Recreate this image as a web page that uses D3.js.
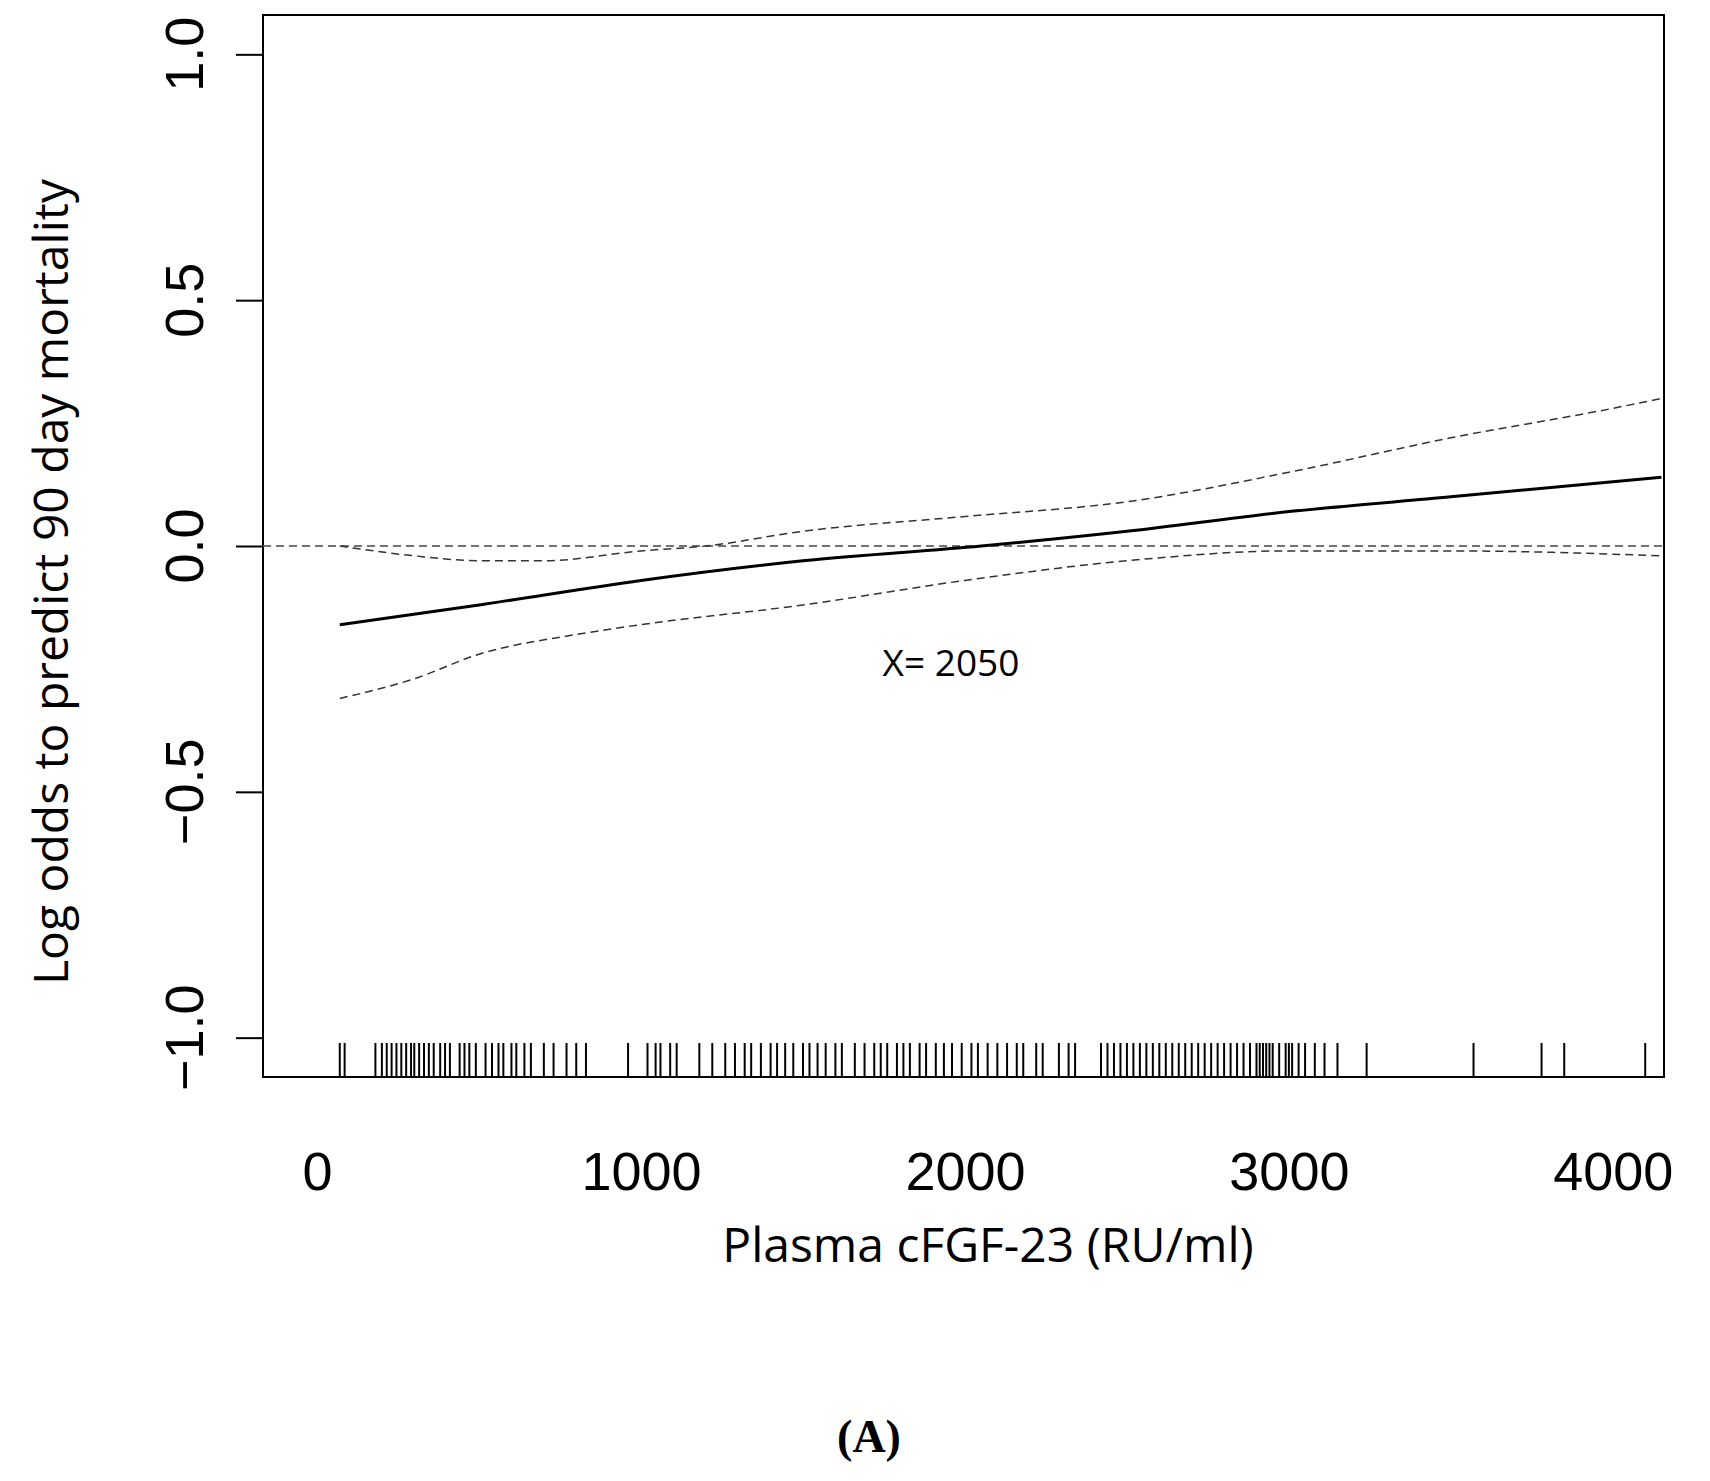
<!DOCTYPE html>
<html>
<head>
<meta charset="utf-8">
<script src="https://cdn.jsdelivr.net/npm/d3@7"></script>
<style>
  body { margin: 0; background: #fff; }
</style>
</head>
<body>
<svg id="chart" width="1710" height="1481"></svg>
<script>
// data
const xTicks = [0, 1000, 2000, 3000, 4000];
const yTicks = [-1.0, -0.5, 0.0, 0.5, 1.0];

const fitX = [70, 500, 1000, 1500, 2050, 2500, 3000, 3500, 4150];
const fitY = [-0.16, -0.12, -0.07, -0.03, 0.0, 0.03, 0.07, 0.10, 0.14];

const upperX = [70, 300, 500, 700, 1000, 1200, 1500, 2000, 2500, 3000, 3500, 4000, 4150];
const upperY = [0.0, -0.02, -0.03, -0.03, -0.01, 0.0, 0.03, 0.06, 0.09, 0.15, 0.22, 0.28, 0.30];

const lowerX = [70, 300, 500, 800, 1000, 1500, 2000, 2500, 3000, 3500, 4150];
const lowerY = [-0.31, -0.27, -0.22, -0.18, -0.16, -0.12, -0.07, -0.03, -0.01, -0.01, -0.02];

// rug of observed values
const rug = [70, 85, 180, 200, 215, 230, 245, 260, 275, 290, 300, 315, 330, 345, 360, 380, 395, 410, 440, 455, 470, 490,
  520, 540, 560, 575, 600, 615, 640, 660, 700, 730, 770, 800, 830, 960, 1020, 1045, 1060, 1090, 1110, 1180, 1220,
  1260, 1290, 1320, 1340, 1370, 1400, 1420, 1445, 1470, 1500, 1520, 1545, 1570, 1600, 1620, 1660, 1690, 1720, 1740,
  1760, 1790, 1810, 1830, 1860, 1880, 1910, 1935, 1960, 1990, 2020, 2040, 2070, 2100, 2130, 2160, 2180, 2220, 2240,
  2290, 2320, 2340, 2420, 2440, 2460, 2480, 2500, 2520, 2540, 2560, 2580, 2600, 2620, 2640, 2660, 2680, 2700, 2720,
  2740, 2760, 2780, 2800, 2820, 2840, 2860, 2880, 2900, 2910, 2920, 2930, 2940, 2950, 2970, 2990, 3000, 3010, 3030,
  3050, 3080, 3110, 3150, 3240, 3570, 3780, 3850, 4100];

const svg = d3.select("#chart");
const pLeft = 263, pRight = 1664, pTop = 15, pBottom = 1077;

const x = d3.scaleLinear().domain([-167, 4158]).range([pLeft, pRight]);
const y = d3.scaleLinear().domain([-1.08, 1.08]).range([pBottom, pTop]);

// frame
svg.append("rect").attr("x", pLeft).attr("y", pTop)
  .attr("width", pRight - pLeft).attr("height", pBottom - pTop)
  .attr("fill", "none").attr("stroke", "#000").attr("stroke-width", 2);

// axes
const yAxis = svg.append("g").attr("transform", `translate(${pLeft},0)`)
  .call(d3.axisLeft(y).tickValues(yTicks).tickSize(27).tickFormat(d3.format(".1f")));
yAxis.select(".domain").remove();
yAxis.selectAll("line").attr("stroke-width", 2);
yAxis.selectAll("text").remove();
yTicks.forEach(v => {
  svg.append("text")
    .attr("transform", `translate(203,${y(v)}) rotate(-90)`)
    .attr("text-anchor", "middle")
    .attr("font-family", "Liberation Sans, Arial, sans-serif")
    .attr("font-size", 54)
    .text(d3.format(".1f")(v));
});

const xAxis = svg.append("g").attr("transform", `translate(0,${pBottom})`)
  .call(d3.axisBottom(x).tickValues(xTicks).tickSize(0).tickFormat(d3.format("d")));
xAxis.select(".domain").remove();
xAxis.selectAll("text")
  .attr("y", 75)
  .attr("font-family", "Liberation Sans, Arial, sans-serif")
  .attr("font-size", 54).attr("fill", "#000");

// reference line at 0
svg.append("line").attr("x1", pLeft).attr("x2", pRight)
  .attr("y1", y(0)).attr("y2", y(0))
  .attr("stroke", "#444").attr("stroke-width", 1.5).attr("stroke-dasharray", "8,5");

const line = d3.line().curve(d3.curveMonotoneX);
function pts(xs, ys) { return xs.map((v, i) => [x(v), y(ys[i])]); }

svg.append("path").attr("d", line(pts(upperX, upperY)))
  .attr("fill", "none").attr("stroke", "#333").attr("stroke-width", 1.5).attr("stroke-dasharray", "8,5");
svg.append("path").attr("d", line(pts(lowerX, lowerY)))
  .attr("fill", "none").attr("stroke", "#333").attr("stroke-width", 1.5).attr("stroke-dasharray", "8,5");
svg.append("path").attr("d", line(pts(fitX, fitY)))
  .attr("fill", "none").attr("stroke", "#000").attr("stroke-width", 3);

// rug
svg.append("g").selectAll("line").data(rug).join("line")
  .attr("x1", d => x(d)).attr("x2", d => x(d))
  .attr("y1", pBottom - 1).attr("y2", pBottom - 34)
  .attr("stroke", "#000").attr("stroke-width", 2);

// texts
svg.append("text").attr("x", 951).attr("y", 676).attr("text-anchor", "middle")
  .attr("font-family", "Open Sans, sans-serif").attr("font-size", 37).text("X= 2050");

svg.append("text").attr("x", 988).attr("y", 1262).attr("text-anchor", "middle")
  .attr("font-family", "Open Sans, sans-serif").attr("font-size", 48).text("Plasma cFGF-23 (RU/ml)");

svg.append("text").attr("transform", "translate(68,582) rotate(-90)").attr("text-anchor", "middle")
  .attr("font-family", "Open Sans, sans-serif").attr("font-size", 48).text("Log odds to predict 90 day mortality");

svg.append("text").attr("x", 869).attr("y", 1452).attr("text-anchor", "middle")
  .attr("font-family", "Liberation Serif, serif").attr("font-size", 46).attr("font-weight", "bold").text("(A)");
</script>
</body>
</html>
